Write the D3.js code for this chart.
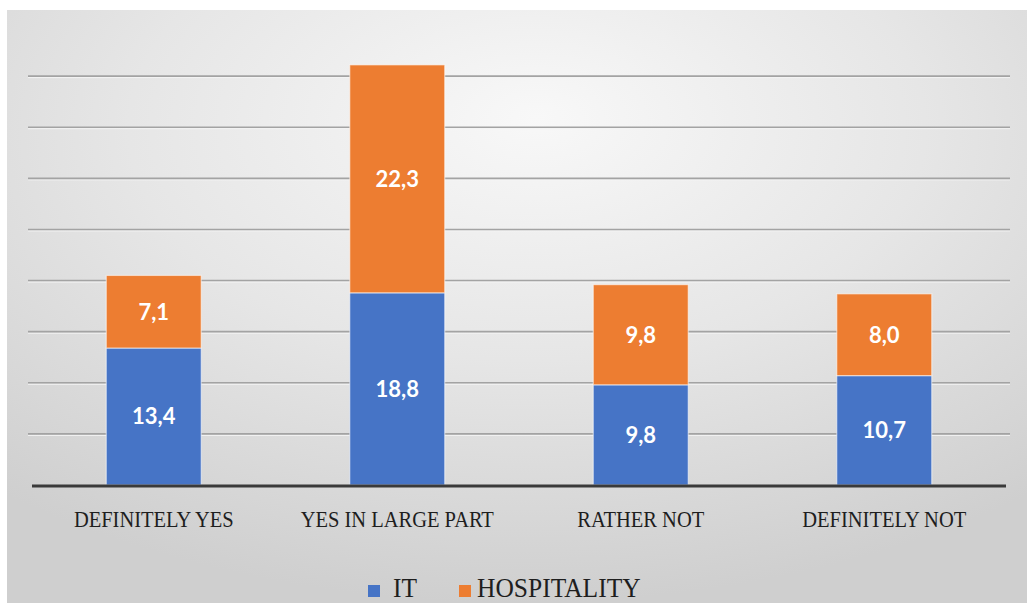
<!DOCTYPE html>
<html>
<head>
<meta charset="utf-8">
<script src="https://cdn.jsdelivr.net/npm/d3@7"></script>
<style>
  html, body { margin: 0; padding: 0; background: #ffffff; }
  svg { display: block; }
</style>
</head>
<body>
<div id="chart"></div>
<script>
// Answer categories and the two sector series (percent)
const categories = ["DEFINITELY YES", "YES IN LARGE PART", "RATHER NOT", "DEFINITELY NOT"];
const seriesNames = ["IT", "HOSPITALITY"];
const itValues = [13.4, 18.8, 9.8, 10.7];
const hospitalityValues = [7.1, 22.3, 9.8, 8.0];
const gridTicks = [5, 10, 15, 20, 25, 30, 35, 40];

const colors = { IT: "#4674c6", HOSPITALITY: "#ed7d31" };
const serif = "'Liberation Serif', 'Times New Roman', Times, serif";
const textStretch = 1.16;

const W = 1027, H = 603;
const margin = { left: 32, right: 21, top: 25, bottom: 118 };
const innerW = W - margin.left - margin.right;
const baseY = H - margin.bottom;

const svg = d3.select("#chart").append("svg")
  .attr("width", W).attr("height", H);

// Soft grey panel behind the chart
const defs = svg.append("defs");
const rg = defs.append("radialGradient").attr("id", "panelBg")
  .attr("cx", "0.5").attr("cy", "0.22").attr("r", "0.78")
  .attr("fx", "0.52").attr("fy", "0.18");
rg.append("stop").attr("offset", "0%").attr("stop-color", "#f8f8f8");
rg.append("stop").attr("offset", "50%").attr("stop-color", "#e6e6e6");
rg.append("stop").attr("offset", "100%").attr("stop-color", "#cfcfcf");

svg.append("rect")
  .attr("x", 7).attr("y", 10).attr("width", W - 7).attr("height", H - 10)
  .attr("fill", "url(#panelBg)");

const x = d3.scaleBand()
  .domain(categories)
  .range([margin.left, margin.left + innerW])
  .paddingInner(0.61)
  .paddingOuter(0.305);

const y = d3.scaleLinear()
  .domain([0, 45])
  .range([baseY, margin.top]);

// Horizontal gridlines with a pale highlight underneath
const grid = svg.append("g");
grid.selectAll("line.hl").data(gridTicks).join("line")
  .attr("class", "hl")
  .attr("x1", margin.left - 4).attr("x2", margin.left + innerW + 4)
  .attr("y1", d => y(d) + 1.5).attr("y2", d => y(d) + 1.5)
  .attr("stroke", "#f4f4f4").attr("stroke-width", 1);
grid.selectAll("line.g").data(gridTicks).join("line")
  .attr("class", "g")
  .attr("x1", margin.left - 4).attr("x2", margin.left + innerW + 4)
  .attr("y1", d => y(d)).attr("y2", d => y(d))
  .attr("stroke", "#a3a3a3").attr("stroke-width", 1.6);

// Stack the two series
const rows = categories.map((c, i) => ({ cat: c, IT: itValues[i], HOSPITALITY: hospitalityValues[i] }));
const stacked = d3.stack().keys(seriesNames)(rows);

const layers = svg.append("g").selectAll("g").data(stacked).join("g")
  .attr("fill", d => colors[d.key]);

layers.selectAll("rect").data(d => d).join("rect")
  .attr("x", d => x(d.data.cat))
  .attr("width", x.bandwidth())
  .attr("y", d => y(d[1]))
  .attr("height", d => y(d[0]) - y(d[1]))
  .attr("stroke", "rgba(255,255,255,0.55)")
  .attr("stroke-width", 1.2);

// Value labels centred in each segment
const labels = svg.append("g");
stacked.forEach(layer => {
  layer.forEach(d => {
    const v = d[1] - d[0];
    labels.append("text")
      .attr("x", x(d.data.cat) + x.bandwidth() / 2)
      .attr("y", (y(d[0]) + y(d[1])) / 2)
      .attr("dy", "0.36em")
      .attr("text-anchor", "middle")
      .attr("font-family", "Lato, 'Open Sans', sans-serif")
      .attr("font-weight", "bold")
      .attr("font-size", 22)
      .attr("fill", "#ffffff")
      .text(d3.format(".1f")(v).replace(".", ","));
  });
});

// Baseline
svg.append("line")
  .attr("x1", margin.left).attr("x2", margin.left + innerW)
  .attr("y1", baseY + 1).attr("y2", baseY + 1)
  .attr("stroke", "#3a3a3a").attr("stroke-width", 3);

// Category axis labels (tall serif caps)
const xAxis = d3.axisBottom(x).tickSize(0);
const ax = svg.append("g").attr("transform", `translate(0,${baseY})`).call(xAxis);
ax.select(".domain").remove();
ax.selectAll("text")
  .attr("y", 0).attr("dy", null)
  .attr("transform", `translate(0,42) scale(1,${textStretch})`)
  .style("font-family", serif)
  .attr("font-size", 20.5)
  .attr("fill", "#1e1e1e");

// Legend
const legendBaseline = 597;
const legendItems = [
  { name: "IT", sx: 368, tx: 393 },
  { name: "HOSPITALITY", sx: 459, tx: 477 }
];
const legend = svg.append("g");
legendItems.forEach(it => {
  legend.append("rect")
    .attr("x", it.sx).attr("y", legendBaseline - 12)
    .attr("width", 12).attr("height", 12)
    .attr("fill", colors[it.name]);
  legend.append("text")
    .attr("transform", `translate(${it.tx},${legendBaseline}) scale(1,1.1)`)
    .style("font-family", serif)
    .attr("font-size", 25.5)
    .attr("fill", "#1e1e1e")
    .text(it.name);
});
</script>
</body>
</html>
